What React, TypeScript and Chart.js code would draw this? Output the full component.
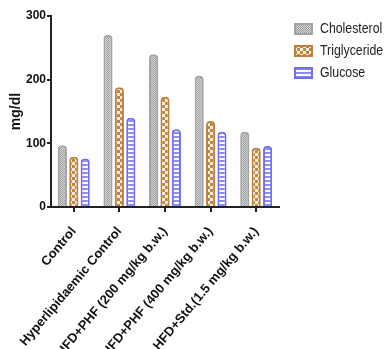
import { useEffect, useRef } from 'react';
import { Chart, registerables } from 'chart.js';
Chart.register(...registerables);

const categories = [
  'Control',
  'Hyperlipidaemic Control',
  'HFD+PHF (200 mg/kg b.w.)',
  'HFD+PHF (400 mg/kg b.w.)',
  'HFD+Std.(1.5 mg/kg b.w.)',
];
const seriesNames = ['Cholesterol', 'Triglyceride', 'Glucose'];
const cholesterol = [97, 270, 240, 206, 118];
const triglyceride = [79, 188, 173, 135, 93];
const glucose = [76, 140, 122, 118, 96];
const yTicks = [0, 100, 200, 300];

function makePattern(kind: string): CanvasPattern | string {
  const c = document.createElement('canvas');
  const ctx = c.getContext('2d')!;
  if (kind === 'chol') {
    c.width = 2; c.height = 2;
    ctx.fillStyle = '#d6d6d6'; ctx.fillRect(0, 0, 2, 2);
    ctx.fillStyle = '#9c9c9c'; ctx.fillRect(0, 0, 1, 1); ctx.fillRect(1, 1, 1, 1);
  } else if (kind === 'trig') {
    c.width = 6; c.height = 6;
    ctx.fillStyle = '#c4843e'; ctx.fillRect(0, 0, 6, 6);
    ctx.fillStyle = '#fbf3ea'; ctx.fillRect(0, 0, 3, 3); ctx.fillRect(3, 3, 3, 3);
  } else {
    c.width = 4; c.height = 4;
    ctx.fillStyle = '#ffffff'; ctx.fillRect(0, 0, 4, 4);
    ctx.fillStyle = '#8c8cf4'; ctx.fillRect(0, 0, 4, 2);
  }
  return ctx.createPattern(c, 'repeat') || '#ccc';
}

export default function App() {
  const ref = useRef<HTMLCanvasElement>(null);
  useEffect(() => {
    if (!ref.current) return;
    const fills = [makePattern('chol'), makePattern('trig'), makePattern('gluc')];
    const borders = ['#a2a2a2', '#bf7f3a', '#6e6ef2'];
    const values = [cholesterol, triglyceride, glucose];
    const legendPlugin = {
      id: 'customLegend',
      afterDraw(chart: any) {
        const ctx = chart.ctx;
        ctx.save();
        chart.data.datasets.forEach((ds: any, i: number) => {
          const y = 23 + i * 22;
          ctx.fillStyle = ds.backgroundColor;
          ctx.fillRect(294, y, 19, 12);
          ctx.strokeStyle = ds.borderColor;
          ctx.lineWidth = 2;
          ctx.strokeRect(295, y + 1, 17, 10);
          ctx.save();
          ctx.translate(320, y + 6);
          ctx.scale(0.88, 1);
          ctx.fillStyle = '#222';
          ctx.font = '14px "Liberation Sans", Arial, sans-serif';
          ctx.textBaseline = 'middle';
          ctx.textAlign = 'left';
          ctx.fillText(ds.label, 0, 0);
          ctx.restore();
        });
        ctx.restore();
      },
    };
    const chart = new Chart(ref.current, {
      type: 'bar',
      data: {
        labels: categories,
        datasets: seriesNames.map((name, i) => ({
          label: name,
          data: values[i],
          backgroundColor: fills[i] as any,
          borderColor: borders[i],
          borderWidth: 2,
          borderRadius: { topLeft: 4, topRight: 4, bottomLeft: 0, bottomRight: 0 },
          borderSkipped: 'bottom',
          categoryPercentage: 0.75,
          barPercentage: 0.8,
        })),
      },
      options: {
        animation: false,
        responsive: true,
        maintainAspectRatio: false,
        layout: { padding: { top: 16, right: 107, left: 0, bottom: 0 } },
        plugins: { legend: { display: false }, tooltip: { enabled: false } },
        scales: {
          x: {
            offset: true,
            grid: { display: true, drawOnChartArea: false, offset: false, tickLength: 5, color: '#222', lineWidth: 2 },
            border: { color: '#222', width: 2 },
            ticks: {
              color: '#111',
              font: { family: '"Liberation Sans", Arial, sans-serif', weight: 'bold', size: 13 },
              maxRotation: 50,
              minRotation: 50,
              autoSkip: false,
              padding: 12,
            },
            afterFit: (s: any) => { s.height = 142; },
          },
          y: {
            min: 0,
            max: 300,
            afterBuildTicks: (s: any) => { s.ticks = yTicks.map((v) => ({ value: v })); },
            grid: { display: true, drawOnChartArea: false, tickLength: 4, color: '#222', lineWidth: 2 },
            border: { color: '#222', width: 2 },
            ticks: {
              color: '#111',
              font: { family: '"Liberation Sans", Arial, sans-serif', weight: 'bold', size: 12 },
              padding: 1,
            },
            title: {
              display: true,
              text: 'mg/dl',
              color: '#111',
              font: { family: '"Liberation Sans", Arial, sans-serif', weight: 'bold', size: 14 },
              padding: { top: 8, bottom: 0 },
            },
            afterFit: (s: any) => { s.width = 51; },
          },
        },
      },
      plugins: [legendPlugin],
    });
    return () => chart.destroy();
  }, []);
  return (
    <div style={{ position: 'absolute', left: 0, top: 0, width: 386, height: 349, background: '#fff' }}>
      <canvas ref={ref} />
    </div>
  );
}
